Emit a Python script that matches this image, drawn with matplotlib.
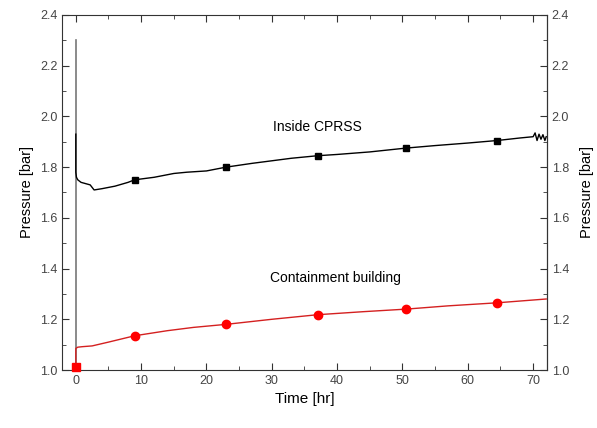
import numpy as np
import matplotlib.pyplot as plt

plt.rcParams['font.family'] = ['Liberation Sans', 'DejaVu Sans']

# 数据
t_in = [0.0, 0.0, 0.1, 0.3, 0.8, 1.5, 2.2, 2.8, 4.0, 6.0, 8.0, 9.0, 12.0, 15.0, 17.0,
        20.0, 23.0, 27.0, 30.0, 33.0, 37.0, 40.0, 45.0, 50.5, 55.0, 60.0, 64.5, 68.0,
        70.0, 70.3, 70.6, 70.9, 71.2, 71.5, 71.8, 72.0]
p_in = [1.93, 1.78, 1.76, 1.75, 1.74, 1.735, 1.73, 1.71, 1.715, 1.725, 1.74, 1.75,
        1.76, 1.775, 1.78, 1.785, 1.80, 1.815, 1.825, 1.835, 1.845, 1.85, 1.86, 1.875,
        1.885, 1.895, 1.905, 1.915, 1.92, 1.935, 1.905, 1.93, 1.91, 1.928, 1.905, 1.92]
t_in_mk = [9.0, 23.0, 37.0, 50.5, 64.5]
p_in_mk = [1.75, 1.80, 1.845, 1.875, 1.905]

t_spike = [0.0, 0.0]
p_spike = [1.0, 2.3]

t_cb = [0.0, 0.0, 0.3, 1.0, 2.5, 5.0, 9.0, 14.0, 18.0, 23.0, 30.0, 37.0, 44.0, 50.5,
        57.0, 64.5, 72.0]
p_cb = [1.01, 1.085, 1.09, 1.092, 1.095, 1.11, 1.135, 1.155, 1.168, 1.18, 1.20, 1.218,
        1.23, 1.24, 1.253, 1.265, 1.28]
t_cb_mk = [9.0, 23.0, 37.0, 50.5, 64.5]
p_cb_mk = [1.135, 1.18, 1.218, 1.24, 1.265]

fig = plt.figure(figsize=(5.97, 4.28), dpi=100)
ax = fig.add_axes([0.104, 0.1355, 0.812, 0.8295])

ax.plot(t_spike, p_spike, color='#777777', lw=1.2, zorder=2)
ax.plot(t_in, p_in, color='black', lw=1.0, zorder=3)
ax.plot(t_in_mk, p_in_mk, 's', color='black', ms=5, zorder=4)
ax.plot(t_cb, p_cb, color='#d42020', lw=1.0, zorder=3)
ax.plot(t_cb_mk, p_cb_mk, 'o', color='red', ms=6, zorder=4)
ax.plot([0.0], [1.01], 's', color='red', ms=6, zorder=4, clip_on=False)

ax.text(36.9, 1.96, 'Inside CPRSS', fontsize=10, ha='center', va='center')
ax.text(39.7, 1.363, 'Containment building', fontsize=10, ha='center', va='center')

ax.set_xlim(-2.1, 72.1)
ax.set_ylim(1.0, 2.4)
ax.set_xticks([0, 10, 20, 30, 40, 50, 60, 70])
ax.set_xticks(np.arange(5, 72, 10), minor=True)
ax.set_yticks(np.arange(1.0, 2.41, 0.2))
ax.set_yticks(np.arange(1.1, 2.4, 0.2), minor=True)
ax.yaxis.set_major_formatter(plt.FormatStrFormatter('%.1f'))

ax.tick_params(which='both', direction='in', top=True, right=True, labelright=True,
               labelsize=9, labelcolor='#444444', color='#333333')
ax.tick_params(which='major', length=5)
ax.tick_params(which='minor', length=3)
for s in ax.spines.values():
    s.set_color('#333333')

ax.set_xlabel('Time [hr]', fontsize=11)
ax.set_ylabel('Pressure [bar]', fontsize=10.5)
ax2 = ax.secondary_yaxis('right')
ax2.set_yticks([])
ax2.set_ylabel('Pressure [bar]', fontsize=10.5, labelpad=24)

fig.savefig('out.png', dpi=100)
